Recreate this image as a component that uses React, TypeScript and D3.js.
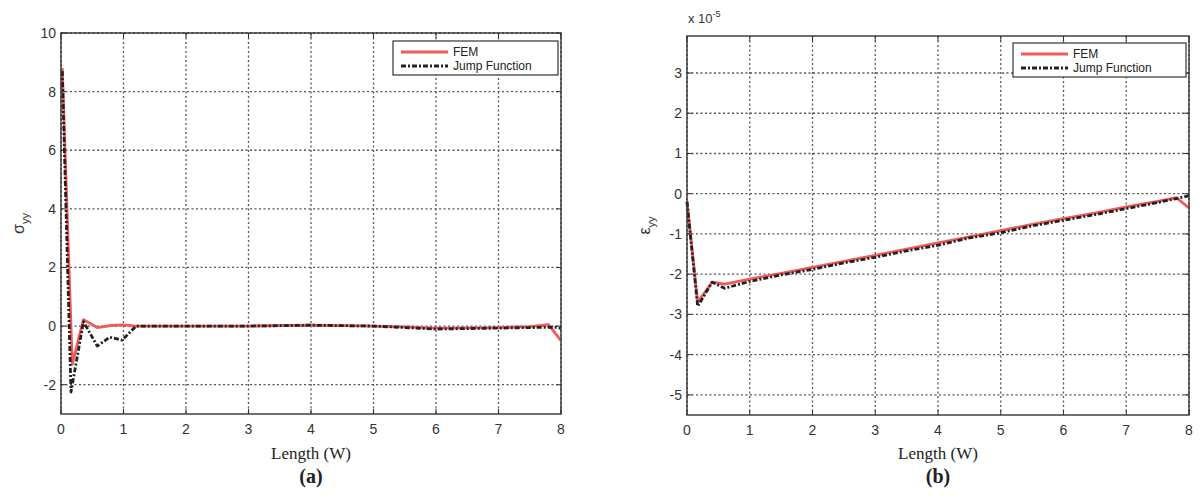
import React from "react";
import * as d3 from "d3";

// Panel (a): sigma_yy
const aFemX = [0.02, 0.18, 0.36, 0.58, 0.8, 1.0, 1.2, 2, 3, 4, 5, 5.5, 6, 7, 7.5, 7.8, 8];
const aFemY = [8.8, -1.3, 0.22, -0.05, 0.02, 0.04, 0.0, 0.0, 0.0, 0.03, 0.0, -0.03, -0.07, -0.05, -0.02, 0.05, -0.5];
const aJumpX = [0.02, 0.16, 0.36, 0.58, 0.78, 0.98, 1.2, 2, 3, 4, 5, 5.5, 6, 7, 7.5, 7.9, 8];
const aJumpY = [8.7, -2.25, 0.15, -0.68, -0.38, -0.48, 0.0, 0.0, 0.0, 0.03, 0.0, -0.05, -0.1, -0.07, -0.05, -0.04, -0.08];

// Panel (b): epsilon_yy (x 10^-5)
const bFemX = [0.0, 0.17, 0.4, 0.6, 1, 1.5, 2, 2.5, 3, 3.5, 4, 4.5, 5, 5.5, 6, 6.5, 7, 7.5, 7.8, 8];
const bFemY = [-0.2, -2.7, -2.2, -2.25, -2.12, -1.98, -1.83, -1.68, -1.53, -1.38, -1.22, -1.07, -0.92, -0.76, -0.62, -0.48, -0.33, -0.19, -0.1, -0.35];
const bJumpX = [0.0, 0.17, 0.4, 0.6, 1, 1.5, 2, 2.5, 3, 3.5, 4, 4.5, 5, 5.5, 6, 6.5, 7, 7.5, 7.8, 8];
const bJumpY = [-0.2, -2.8, -2.2, -2.35, -2.18, -2.02, -1.88, -1.72, -1.58, -1.42, -1.28, -1.1, -0.97, -0.8, -0.66, -0.52, -0.37, -0.22, -0.12, -0.05];

const xTicks = [0, 1, 2, 3, 4, 5, 6, 7, 8];
const aYTicks = [-2, 0, 2, 4, 6, 8, 10];
const bYTicks = [-5, -4, -3, -2, -1, 0, 1, 2, 3];
const legendLabels = ["FEM", "Jump Function"];

const FEM_COLOR = "#ef5a5a";
const JUMP_COLOR = "#222222";
const GRID = "#555";
const TICK_FONT = "Liberation Sans, Arial, sans-serif";

type PanelProps = {
  left: number; right: number; top: number; bottom: number;
  yDomain: [number, number]; yTicks: number[];
  femX: number[]; femY: number[]; jumpX: number[]; jumpY: number[];
  legend: { x: number; y: number; w: number; h: number };
  yLabel: React.ReactNode; yLabelX: number;
  caption: string; exponent?: boolean;
};

function Panel(p: PanelProps) {
  const x = d3.scaleLinear().domain([0, 8]).range([p.left, p.right]);
  const y = d3.scaleLinear().domain(p.yDomain).range([p.bottom, p.top]);
  const line = d3.line<[number, number]>().x(d => x(d[0])).y(d => y(d[1]));
  const fem = line(p.femX.map((v, i) => [v, p.femY[i]] as [number, number])) || "";
  const jump = line(p.jumpX.map((v, i) => [v, p.jumpY[i]] as [number, number])) || "";
  const cx = (p.left + p.right) / 2;
  return (
    <g>
      <defs>
        <clipPath id={"clip" + p.caption}>
          <rect x={p.left} y={p.top} width={p.right - p.left} height={p.bottom - p.top} />
        </clipPath>
      </defs>
      {xTicks.map(t => (
        <line key={"gx" + t} x1={x(t)} x2={x(t)} y1={p.top} y2={p.bottom} stroke={GRID} strokeWidth={1.3} strokeDasharray="2,2.5" />
      ))}
      {p.yTicks.map(t => (
        <line key={"gy" + t} x1={p.left} x2={p.right} y1={y(t)} y2={y(t)} stroke={GRID} strokeWidth={1.3} strokeDasharray="2,2.5" />
      ))}
      <g clipPath={`url(#clip${p.caption})`}>
        <path d={fem} fill="none" stroke={FEM_COLOR} strokeWidth={2.8} strokeLinejoin="round" />
        <path d={jump} fill="none" stroke={JUMP_COLOR} strokeWidth={2.8} strokeDasharray="5,2,2,2" strokeLinejoin="round" />
      </g>
      <rect x={p.left} y={p.top} width={p.right - p.left} height={p.bottom - p.top} fill="none" stroke="#333" strokeWidth={1.4} />
      {xTicks.map(t => (
        <g key={"tx" + t}>
          <line x1={x(t)} x2={x(t)} y1={p.bottom} y2={p.bottom - 5} stroke="#333" />
          <line x1={x(t)} x2={x(t)} y1={p.top} y2={p.top + 5} stroke="#333" />
          <text x={x(t)} y={p.bottom + 20} textAnchor="middle" fontFamily={TICK_FONT} fontSize={14} fill="#333">{t}</text>
        </g>
      ))}
      {p.yTicks.map(t => (
        <g key={"ty" + t}>
          <line x1={p.left} x2={p.left + 5} y1={y(t)} y2={y(t)} stroke="#333" />
          <line x1={p.right} x2={p.right - 5} y1={y(t)} y2={y(t)} stroke="#333" />
          <text x={p.left - 5} y={y(t) + 5} textAnchor="end" fontFamily={TICK_FONT} fontSize={14} fill="#333">{t}</text>
        </g>
      ))}
      {p.exponent && (
        <text x={p.left + 1} y={23} fontFamily={TICK_FONT} fontSize={13} fill="#333">
          x 10<tspan dy={-6} fontSize={9}>-5</tspan>
        </text>
      )}
      <g transform={`translate(${p.yLabelX},${(p.top + p.bottom) / 2}) rotate(-90)`}>
        <text textAnchor="middle" fontFamily={TICK_FONT} fontSize={16} fill="#333">{p.yLabel}</text>
      </g>
      {/* Legend */}
      <rect x={p.legend.x} y={p.legend.y} width={p.legend.w} height={p.legend.h} fill="white" stroke="#333" strokeWidth={1.2} />
      <line x1={p.legend.x + 8} x2={p.legend.x + 55} y1={p.legend.y + 11} y2={p.legend.y + 11} stroke={FEM_COLOR} strokeWidth={2.8} />
      <text x={p.legend.x + 60} y={p.legend.y + 15} fontFamily={TICK_FONT} fontSize={12} fill="#222">{legendLabels[0]}</text>
      <line x1={p.legend.x + 8} x2={p.legend.x + 55} y1={p.legend.y + 25} y2={p.legend.y + 25} stroke={JUMP_COLOR} strokeWidth={2.8} strokeDasharray="5,2,2,2" />
      <text x={p.legend.x + 60} y={p.legend.y + 29} fontFamily={TICK_FONT} fontSize={12} fill="#222">{legendLabels[1]}</text>
      <text x={cx} y={459} textAnchor="middle" fontFamily="Liberation Serif, Times New Roman, serif" fontSize={17} fill="#222">Length (W)</text>
      <text x={cx} y={483} textAnchor="middle" fontFamily="Liberation Serif, Times New Roman, serif" fontWeight="bold" fontSize={20} fill="#222">{p.caption}</text>
    </g>
  );
}

export default function App() {
  return (
    <svg width={1201} height={496} style={{ position: "absolute", left: 0, top: 0, background: "white" }}>
      <Panel
        left={61} right={561} top={33} bottom={414}
        yDomain={[-3, 10]} yTicks={aYTicks}
        femX={aFemX} femY={aFemY} jumpX={aJumpX} jumpY={aJumpY}
        legend={{ x: 393, y: 41, w: 165, h: 34 }}
        yLabel={<>σ<tspan dy={5} fontSize={11}>yy</tspan></>} yLabelX={24}
        caption="(a)"
      />
      <Panel
        left={687} right={1189} top={36} bottom={415}
        yDomain={[-5.5, 3.92]} yTicks={bYTicks}
        femX={bFemX} femY={bFemY} jumpX={bJumpX} jumpY={bJumpY}
        legend={{ x: 1013, y: 43, w: 173, h: 34 }}
        yLabel={<>ε<tspan dy={5} fontSize={11}>yy</tspan></>} yLabelX={650}
        caption="(b)" exponent
      />
    </svg>
  );
}
